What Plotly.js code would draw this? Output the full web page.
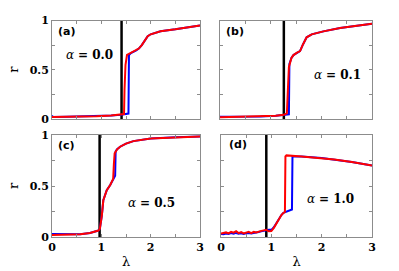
<!DOCTYPE html>
<html>
<head>
<meta charset="utf-8">
<script src="https://cdn.plot.ly/plotly-3.0.1.min.js"></script>
<style>html,body{margin:0;padding:0;background:#fff;}#chart{width:399px;height:271px;}</style>
</head>
<body>
<div id="chart"></div>
<script>
// ---- data ----
const panelLabels = ['(a)', '(b)', '(c)', '(d)'];
const alphaLabels = ['0.0', '0.1', '0.5', '1.0'];
const lambdaC = [1.41, 1.26, 0.965, 0.9];

const aRedX  = [0, 0.3, 0.6, 0.9, 1.2, 1.4, 1.46, 1.47, 1.49, 1.52, 1.6, 1.7, 1.76, 1.82, 1.88, 1.94, 2.0, 2.2, 2.5, 2.8, 3.0];
const aRedY  = [0.02, 0.022, 0.025, 0.029, 0.036, 0.043, 0.05, 0.3, 0.55, 0.65, 0.67, 0.695, 0.715, 0.75, 0.8, 0.84, 0.86, 0.89, 0.91, 0.935, 0.95];
const aBlueX = [0, 0.02, 0.3, 0.6, 0.9, 1.2, 1.4, 1.46, 1.55, 1.56, 1.6, 1.7, 1.76, 1.82, 1.88, 1.94, 2.0, 2.2, 2.5, 2.8, 3.0];
const aBlueY = [0.035, 0.02, 0.022, 0.025, 0.029, 0.036, 0.043, 0.05, 0.055, 0.65, 0.67, 0.695, 0.715, 0.75, 0.8, 0.84, 0.86, 0.89, 0.91, 0.935, 0.95];

const bRedX  = [0, 0.4, 0.8, 1.1, 1.26, 1.32, 1.34, 1.36, 1.41, 1.45, 1.52, 1.58, 1.64, 1.71, 1.81, 2.04, 2.37, 2.7, 3.0];
const bRedY  = [0.02, 0.023, 0.028, 0.035, 0.045, 0.06, 0.3, 0.53, 0.62, 0.65, 0.675, 0.69, 0.76, 0.83, 0.86, 0.89, 0.925, 0.95, 0.967];
const bBlueX = [0, 0.4, 0.8, 1.1, 1.26, 1.36, 1.37, 1.41, 1.45, 1.52, 1.58, 1.64, 1.71, 1.81, 2.04, 2.37, 2.7, 3.0];
const bBlueY = [0.025, 0.023, 0.028, 0.035, 0.045, 0.05, 0.56, 0.62, 0.65, 0.675, 0.69, 0.76, 0.83, 0.86, 0.89, 0.925, 0.95, 0.967];

const cRedX  = [0, 0.3, 0.57, 0.77, 0.9, 0.94, 0.97, 1.01, 1.04, 1.11, 1.18, 1.24, 1.255, 1.27, 1.32, 1.38, 1.5, 1.65, 2.0, 2.5, 3.0];
const cRedY  = [0.02, 0.022, 0.027, 0.04, 0.055, 0.063, 0.08, 0.21, 0.36, 0.46, 0.51, 0.57, 0.72, 0.82, 0.86, 0.885, 0.915, 0.94, 0.965, 0.978, 0.985];
const cBlueX = [0, 0.3, 0.57, 0.77, 0.9, 0.94, 0.97, 1.01, 1.04, 1.11, 1.18, 1.24, 1.28, 1.29, 1.32, 1.38, 1.5, 1.65, 2.0, 2.5, 3.0];
const cBlueY = [0.03, 0.025, 0.027, 0.04, 0.055, 0.063, 0.08, 0.21, 0.36, 0.46, 0.51, 0.57, 0.6, 0.84, 0.86, 0.885, 0.915, 0.94, 0.965, 0.978, 0.985];

const dRedX  = [0, 0.05, 0.1, 0.15, 0.2, 0.25, 0.3, 0.35, 0.4, 0.45, 0.5, 0.55, 0.6, 0.65, 0.7, 0.75, 0.8, 0.85, 0.9, 0.95, 1.0, 1.05, 1.1, 1.15, 1.2, 1.24, 1.27, 1.28, 1.3, 1.6, 2.0, 2.25, 2.6, 3.0];
const dRedY  = [0.033, 0.04, 0.045, 0.035, 0.05, 0.042, 0.056, 0.038, 0.048, 0.035, 0.045, 0.05, 0.038, 0.05, 0.045, 0.055, 0.06, 0.065, 0.07, 0.056, 0.058, 0.09, 0.135, 0.18, 0.215, 0.236, 0.245, 0.79, 0.80, 0.79, 0.775, 0.76, 0.735, 0.70];
const dBlueX = [0, 0.05, 0.1, 0.15, 0.2, 0.25, 0.3, 0.35, 0.4, 0.45, 0.5, 0.55, 0.6, 0.65, 0.7, 0.75, 0.8, 0.85, 0.9, 0.95, 1.0, 1.05, 1.1, 1.15, 1.2, 1.24, 1.31, 1.41, 1.42, 1.5, 1.6, 2.0, 2.25, 2.6, 3.0];
const dBlueY = [0.03, 0.028, 0.035, 0.03, 0.038, 0.032, 0.04, 0.033, 0.036, 0.03, 0.037, 0.04, 0.035, 0.042, 0.045, 0.05, 0.055, 0.062, 0.07, 0.072, 0.07, 0.095, 0.135, 0.18, 0.215, 0.236, 0.25, 0.27, 0.79, 0.792, 0.79, 0.775, 0.76, 0.735, 0.70];

const redX = [aRedX, bRedX, cRedX, dRedX];
const redY = [aRedY, bRedY, cRedY, dRedY];
const blueX = [aBlueX, bBlueX, cBlueX, dBlueX];
const blueY = [aBlueY, bBlueY, cBlueY, dBlueY];

const xTickVals = [0, 0.5, 1, 1.5, 2, 2.5, 3];
const xTickText = ['0', '', '1', '', '2', '', '3'];
const yTickVals = [0, 0.25, 0.5, 0.75, 1];
const yTickText = ['0', '', '0.5', '', '1'];

// ---- layout geometry ----
const W = 399, H = 271;
const xDoms = [[52 / W, 200 / W], [220 / W, 372 / W], [52 / W, 200 / W], [221 / W, 372 / W]];
const yDoms = [[1 - 119 / H, 1 - 20.5 / H], [1 - 119.3 / H, 1 - 20.5 / H], [1 - 237 / H, 1 - 135 / H], [1 - 237 / H, 1 - 135 / H]];
const labelPos = [[0.10, 0.886], [0.10, 0.886], [0.10, 0.895], [0.11, 0.905]];
const alphaPos = [[0.25, 0.65], [0.77, 0.446], [0.67, 0.334], [0.727, 0.37]];

const serifBold = {family: 'DejaVu Serif', size: 11, color: '#000', weight: 'bold'};

const traces = [];
const layout = {
  width: W, height: H,
  margin: {l: 0, r: 0, t: 0, b: 0},
  paper_bgcolor: '#fff', plot_bgcolor: '#fff',
  showlegend: false,
  annotations: []
};

for (let i = 0; i < 4; i++) {
  const n = i + 1;
  const xa = n === 1 ? 'x' : 'x' + n;
  const ya = n === 1 ? 'y' : 'y' + n;
  traces.push({x: [lambdaC[i], lambdaC[i]], y: [0, 1], xaxis: xa, yaxis: ya, mode: 'lines',
               line: {color: '#000', width: 2.5}, hoverinfo: 'skip'});
  traces.push({x: blueX[i], y: blueY[i], xaxis: xa, yaxis: ya, mode: 'lines',
               line: {color: '#0000ff', width: 2}});
  traces.push({x: redX[i], y: redY[i], xaxis: xa, yaxis: ya, mode: 'lines',
               line: {color: '#ff0000', width: 2}});

  const bottom = i >= 2, left = (i % 2) === 0;
  layout['xaxis' + (n === 1 ? '' : n)] = {
    domain: xDoms[i], anchor: ya, range: [0, 3],
    showline: true, linecolor: '#8c8c8c', linewidth: 1, mirror: 'ticks',
    ticks: 'inside', ticklen: 3, tickcolor: '#8c8c8c', tickwidth: 1,
    tickmode: 'array', tickvals: xTickVals, ticktext: bottom ? xTickText : xTickVals.map(() => ''),
    tickfont: serifBold, showgrid: false, zeroline: false,
    title: bottom ? {text: 'λ', font: {family: 'DejaVu Serif', size: 13, color: '#000'}, standoff: 3} : {text: ''}
  };
  layout['yaxis' + (n === 1 ? '' : n)] = {
    domain: yDoms[i], anchor: xa, range: [0, 1],
    showline: true, linecolor: '#8c8c8c', linewidth: 1, mirror: 'ticks',
    ticks: 'inside', ticklen: 3, tickcolor: '#8c8c8c', tickwidth: 1,
    tickmode: 'array', tickvals: yTickVals, ticktext: left ? yTickText : yTickVals.map(() => ''),
    tickfont: serifBold, showgrid: false, zeroline: false,
    title: left ? {text: 'r', font: {family: 'DejaVu Serif', size: 13, color: '#000'}, standoff: 8} : {text: ''}
  };
  layout.annotations.push({
    xref: xa + ' domain', yref: ya + ' domain', x: labelPos[i][0], y: labelPos[i][1],
    xanchor: 'center', yanchor: 'middle',
    text: '<b>' + panelLabels[i] + '</b>', showarrow: false,
    font: {family: 'DejaVu Sans', size: 11, color: '#000'}
  });
  layout.annotations.push({
    xref: xa + ' domain', yref: ya + ' domain', x: alphaPos[i][0], y: alphaPos[i][1],
    xanchor: 'center', yanchor: 'middle',
    text: '<i>α</i> <b>= ' + alphaLabels[i] + '</b>', showarrow: false,
    font: {family: 'DejaVu Serif', size: 12, color: '#000'}
  });
}

Plotly.newPlot('chart', traces, layout, {staticPlot: true, displayModeBar: false});
</script>
</body>
</html>
